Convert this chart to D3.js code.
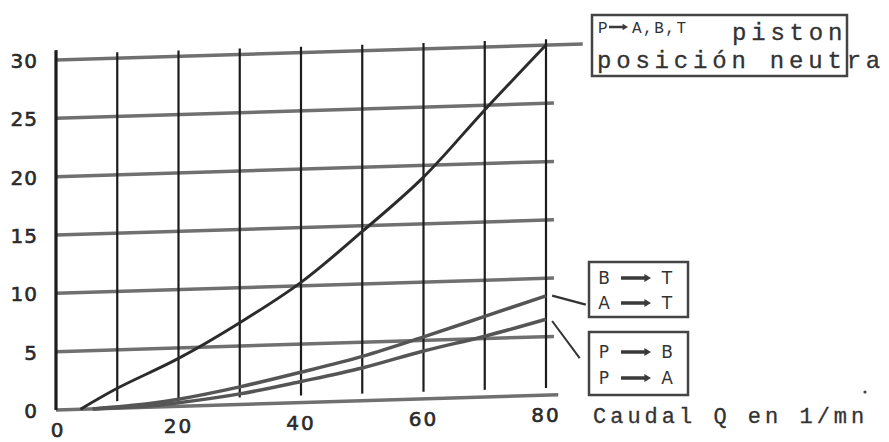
<html>
<head>
<style type="text/css">
  body { margin: 0; background: #fff; }
  .tick text { font-family: "DejaVu Sans", sans-serif; font-size: 20px; fill: #2a2a2a; stroke: #2a2a2a; stroke-width: 0.6px; }
  .mono { font-family: "Liberation Mono", "DejaVu Sans Mono", monospace; fill: #333; }
  .lab { font-family: "DejaVu Sans", sans-serif; font-size: 17px; fill: #333; }
</style>
</head>
<body>
<svg id="viewport" width="889" height="442"></svg>
<script src="https://cdn.jsdelivr.net/npm/d3@7/dist/d3.min.js"></script>
<script>
  // DATA
  var xGrid = [0, 10, 20, 30, 40, 50, 60, 70, 80];
  var xLabels = [0, 20, 40, 60, 80];
  var yGrid = [0, 5, 10, 15, 20, 25, 30];

  // P -> A,B,T piston posicion neutra
  var qNeutral = [4, 10, 20, 30, 40, 50, 60, 70, 80];
  var dpNeutral = [0, 1.7, 4.1, 7.0, 10.3, 14.5, 19.0, 24.6, 30];
  // B -> T , A -> T
  var qTank = [6, 15, 20, 30, 40, 50, 60, 70, 80];
  var dpTank = [0, 0.3, 0.6, 1.5, 2.6, 3.8, 5.3, 6.9, 8.5];
  // P -> B , P -> A
  var qPump = [6, 15, 20, 30, 40, 50, 60, 70, 80];
  var dpPump = [0, 0.1, 0.3, 0.9, 1.8, 2.8, 4.1, 5.2, 6.5];

  var svg = d3.select("svg");
  var left = 56, skew = 1.75;
  var tanSk = Math.tan(skew * Math.PI / 180);

  var x = d3.scaleLinear().domain([0, 80]).range([0, 490]);
  var y = d3.scaleLinear().domain([0, 30]).range([410, 60]);

  // the scanned grid is slightly sheared, so the plot is too
  var g = svg.append("g")
    .attr("transform", "translate(" + left + ",0) skewY(" + (-skew) + ")");

  // horizontal grid lines
  g.append("g").selectAll("line")
    .data(yGrid)
    .enter().append("line")
    .attr("x1", 0)
    .attr("x2", function(d) {
      if (d == 30) return x(86);
      if (d == 0) return x(82);
      return x(81.3);
    })
    .attr("y1", function(d) { return y(d); })
    .attr("y2", function(d) { return y(d); })
    .style("stroke", "#707070")
    .style("stroke-width", 3.5);

  // vertical grid lines
  g.append("g").selectAll("line")
    .data(xGrid)
    .enter().append("line")
    .attr("x1", function(d) { return x(d); })
    .attr("x2", function(d) { return x(d); })
    .attr("y1", function(d) { return y(d == 0 ? 30.85 : 30.5); })
    .attr("y2", function(d) { return y(d == 0 ? 0 : 0.6); })
    .style("stroke", "#1c1c1c")
    .style("stroke-width", function(d) { return d == 0 ? 3.2 : 2.2; });

  var line = d3.line()
    .x(function(d) { return x(d[0]); })
    .y(function(d) { return y(d[1]); })
    .curve(d3.curveCatmullRom.alpha(0.5));

  function pairs(xs, ys) {
    return xs.map(function(v, i) { return [v, ys[i]]; });
  }

  g.append("path")
    .datum(pairs(qPump, dpPump))
    .attr("d", line)
    .style("fill", "none").style("stroke", "#555").style("stroke-width", 3.5);

  g.append("path")
    .datum(pairs(qTank, dpTank))
    .attr("d", line)
    .style("fill", "none").style("stroke", "#555").style("stroke-width", 3.5);

  g.append("path")
    .datum(pairs(qNeutral, dpNeutral))
    .attr("d", line)
    .style("fill", "none").style("stroke", "#2b2b2b").style("stroke-width", 3);

  // leader lines from the curve ends to the boxes
  var endTank = dpTank[dpTank.length - 1], endPump = dpPump[dpPump.length - 1];
  g.append("line")
    .attr("x1", x(81)).attr("y1", y(endTank))
    .attr("x2", x(86.5)).attr("y2", y(endTank) + 10)
    .style("stroke", "#333").style("stroke-width", 2.2);
  g.append("line")
    .attr("x1", x(81)).attr("y1", y(endPump) + 2)
    .attr("x2", x(85.5)).attr("y2", y(endPump) + 40)
    .style("stroke", "#333").style("stroke-width", 2);

  // tick labels (follow the shear but stay upright)
  function shearY(xv) { return -x(xv) * tanSk; }

  var yt = svg.append("g").attr("class", "tick");
  yt.selectAll("text")
    .data(yGrid)
    .enter().append("text")
    .attr("x", 38)
    .attr("y", function(d) { return y(d) + 8; })
    .attr("text-anchor", "end")
    .style("letter-spacing", "1px")
    .text(function(d) { return d; });

  var xt = svg.append("g").attr("class", "tick");
  xt.selectAll("text")
    .data(xLabels)
    .enter().append("text")
    .attr("x", function(d) { return left + x(d) + (d == 0 ? 2 : 0); })
    .attr("y", function(d) { return 437 + shearY(d); })
    .attr("text-anchor", "middle")
    .style("letter-spacing", "2px")
    .text(function(d) { return d; });

  // axis title
  svg.append("text")
    .attr("class", "mono")
    .attr("x", 593).attr("y", 423)
    .style("font-size", "22px")
    .style("letter-spacing", "4px")
    .style("stroke", "#333").style("stroke-width", 0.3)
    .text("Caudal Q en 1/mn");

  function arrow(sel, x0, yc, len, s) {
    sel.append("path")
      .attr("d", "M" + x0 + "," + (yc - s * 1.5) + "H" + (x0 + len - s * 6) +
        "V" + (yc - s * 3.6) + "L" + (x0 + len) + "," + yc +
        "L" + (x0 + len - s * 6) + "," + (yc + s * 3.6) +
        "V" + (yc + s * 1.5) + "H" + x0 + "Z")
      .style("fill", "#3a3a3a");
  }

  // top box
  var topBox = svg.append("g");
  topBox.append("rect")
    .attr("x", 592).attr("y", 15).attr("width", 255).attr("height", 61)
    .style("fill", "none").style("stroke", "#444").style("stroke-width", 2.5);
  topBox.append("text").attr("class", "mono").attr("x", 598).attr("y", 33)
    .style("font-size", "16px").text("P");
  arrow(topBox, 609, 27, 19, 0.9);
  topBox.append("text").attr("class", "mono").attr("x", 632).attr("y", 33)
    .style("font-size", "16px").style("letter-spacing", "1.5px").text("A,B,T");
  topBox.append("text").attr("class", "mono").attr("x", 732).attr("y", 40)
    .style("font-size", "24px").style("letter-spacing", "4.8px")
    .style("stroke", "#333").style("stroke-width", 0.3).text("piston");
  topBox.append("text").attr("class", "mono").attr("x", 597).attr("y", 68)
    .style("font-size", "24px").style("letter-spacing", "4.8px")
    .style("stroke", "#333").style("stroke-width", 0.3).text("posición neutra");

  // small boxes
  var boxes = [
    { y: 262, h: 55, rows: [["B", "T"], ["A", "T"]], base: [284, 309] },
    { y: 332, h: 63, rows: [["P", "B"], ["P", "A"]], base: [358, 384] }
  ];
  boxes.forEach(function(b) {
    var bg = svg.append("g");
    bg.append("rect")
      .attr("x", 589).attr("y", b.y).attr("width", 99).attr("height", b.h)
      .style("fill", "none").style("stroke", "#444").style("stroke-width", 2.5);
    b.rows.forEach(function(r, i) {
      bg.append("text").attr("class", "lab").attr("x", 604).attr("y", b.base[i])
        .attr("text-anchor", "middle").text(r[0]);
      arrow(bg, 621, b.base[i] - 6, 30, 1.1);
      bg.append("text").attr("class", "lab").attr("x", 667).attr("y", b.base[i])
        .attr("text-anchor", "middle").text(r[1]);
    });
  });

  // stray dot from the scan
  svg.append("circle").attr("cx", 865).attr("cy", 392).attr("r", 1.6).style("fill", "#444");
</script>
</body>
</html>
